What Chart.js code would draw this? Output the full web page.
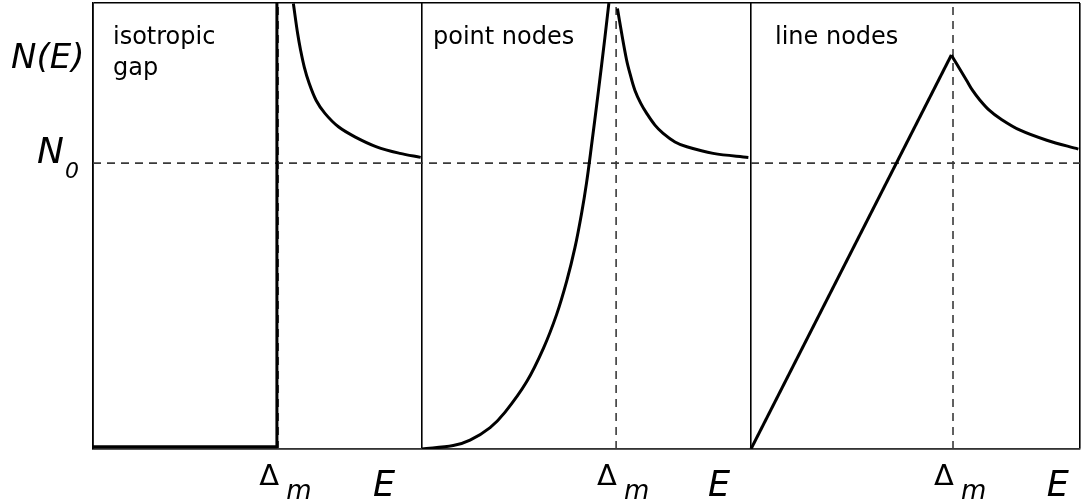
<!DOCTYPE html>
<html>
<head>
<meta charset="utf-8">
<title>N(E) for isotropic gap, point nodes and line nodes</title>
<script src="https://cdn.jsdelivr.net/npm/chart.js@4/dist/chart.umd.min.js"></script>
<style>
  html, body { margin: 0; padding: 0; background: #fff; }
  canvas { display: block; }
</style>
</head>
<body>
<canvas id="dos" width="1082" height="504"></canvas>
<script>
// Three panels share one energy axis: panel k spans E = k .. k+1.
const panelEdges = [0, 1, 2, 3];
const panelTitles = [["isotropic", "gap"], ["point nodes"], ["line nodes"]];
const titleOffset = [20, 11, 24];           // px from each panel's left edge
const gapEnergy = [0.563, 1.590, 2.614];    // Δm position in each panel
const energyLabelX = [0.851, 1.869, 2.899]; // where the "E" label sits
const n0 = 1;        // normal-state density of states
const yMax = 1.56;

// isotropic gap: zero below Δm, then a divergence
const isoStepX = [0, 0.559, 0.559];
const isoStepY = [0.008, 0.008, 1.7];
const isoTailX = [0.609, 0.622, 0.631, 0.642, 0.657, 0.678, 0.705, 0.746, 0.796, 0.862, 0.933, 0.996];
const isoTailY = [1.558, 1.453, 1.395, 1.337, 1.279, 1.220, 1.174, 1.127, 1.092, 1.057, 1.034, 1.020];

// point nodes
const pointRiseX = [1.000, 1.095, 1.146, 1.207, 1.252, 1.318, 1.369, 1.409, 1.440, 1.465, 1.485, 1.500, 1.514, 1.536, 1.556, 1.568];
const pointRiseY = [0.000, 0.012, 0.031, 0.075, 0.128, 0.235, 0.352, 0.470, 0.588, 0.705, 0.824, 0.930, 1.050, 1.250, 1.440, 1.560];
const pointFallX = [1.594, 1.607, 1.622, 1.632, 1.647, 1.665, 1.683, 1.708, 1.733, 1.769, 1.805, 1.885, 1.992];
const pointFallY = [1.541, 1.453, 1.360, 1.314, 1.255, 1.209, 1.174, 1.133, 1.104, 1.074, 1.057, 1.034, 1.020];

// line nodes
const lineRiseX = [2.000, 2.609];
const lineRiseY = [0.000, 1.378];
const lineFallX = [2.609, 2.624, 2.655, 2.673, 2.696, 2.724, 2.757, 2.818, 2.899, 2.995];
const lineFallY = [1.378, 1.349, 1.290, 1.255, 1.220, 1.185, 1.156, 1.115, 1.080, 1.049];

const pts = (xs, ys) => xs.map((x, i) => ({ x: x, y: ys[i] }));

const curve = (xs, ys, smooth) => ({
  data: pts(xs, ys),
  borderColor: '#000',
  borderWidth: 3,
  pointRadius: 0,
  fill: false,
  tension: smooth ? 0.35 : 0,
  borderJoinStyle: 'round',
  order: 1
});

const dashed = (data) => ({
  data: data,
  borderColor: '#3a3a3a',
  borderWidth: 1.6,
  borderDash: [8, 6],
  pointRadius: 0,
  fill: false,
  tension: 0,
  order: 2
});

const datasets = [
  dashed([{ x: panelEdges[0], y: n0 }, { x: panelEdges[3], y: n0 }]),
  ...gapEnergy.map(g => dashed([{ x: g, y: 0 }, { x: g, y: yMax }])),
  curve(isoStepX, isoStepY, false),
  curve(isoTailX, isoTailY, true),
  curve(pointRiseX, pointRiseY, true),
  curve(pointFallX, pointFallY, true),
  curve(lineRiseX, lineRiseY, false),
  curve(lineFallX, lineFallY, true)
];

const FONT = '"DejaVu Sans", "Liberation Sans", sans-serif';

// Axis symbols, panel titles and Δm / E labels
const labelPlugin = {
  id: 'labels',
  afterDraw(chart) {
    const ctx = chart.ctx;
    const xs = chart.scales.x, ys = chart.scales.y;
    ctx.save();
    ctx.fillStyle = '#000';
    ctx.textBaseline = 'alphabetic';
    ctx.textAlign = 'left';

    // y-axis symbols
    ctx.font = 'italic 34px ' + FONT;
    ctx.fillText('N(E)', 11, 68);
    const yN0 = ys.getPixelForValue(n0);
    ctx.font = 'italic 36px ' + FONT;
    ctx.fillText('N', 37, yN0);
    ctx.font = 'italic 22px ' + FONT;
    ctx.fillText('0', 65, yN0 + 15);

    // panel titles
    ctx.font = '24px ' + FONT;
    panelTitles.forEach((lines, k) => {
      const x0 = xs.getPixelForValue(panelEdges[k]) + titleOffset[k];
      lines.forEach((t, j) => ctx.fillText(t, x0, 44 + j * 31));
    });

    // Δm and E under each panel
    gapEnergy.forEach((g, k) => {
      const gx = xs.getPixelForValue(g);
      ctx.font = '29px ' + FONT;
      ctx.fillText('\u0394', gx - 19, 485);
      ctx.font = 'italic 26px ' + FONT;
      ctx.fillText('m', gx + 8, 499);
      ctx.font = 'italic 35px ' + FONT;
      ctx.fillText('E', xs.getPixelForValue(energyLabelX[k]), 496);
    });
    ctx.restore();
  }
};

new Chart(document.getElementById('dos'), {
  type: 'line',
  data: { datasets: datasets },
  options: {
    responsive: false,
    animation: false,
    devicePixelRatio: 1,
    layout: { padding: { left: 93, top: 3, right: 2, bottom: 55 } },
    plugins: { legend: { display: false }, tooltip: { enabled: false } },
    scales: {
      x: {
        type: 'linear',
        min: panelEdges[0],
        max: panelEdges[3],
        ticks: { display: false, stepSize: 1 },
        grid: { color: '#000', lineWidth: 1.6, drawTicks: false },
        border: { display: true, color: '#333', width: 1.6 }
      },
      y: {
        type: 'linear',
        min: 0,
        max: yMax,
        afterBuildTicks: (axis) => { axis.ticks = [{ value: 0 }, { value: yMax }]; },
        ticks: { display: false },
        grid: { color: '#000', lineWidth: 1.6, drawTicks: false },
        border: { display: true, color: '#000', width: 1.6 }
      }
    }
  },
  plugins: [labelPlugin]
});
</script>
</body>
</html>
